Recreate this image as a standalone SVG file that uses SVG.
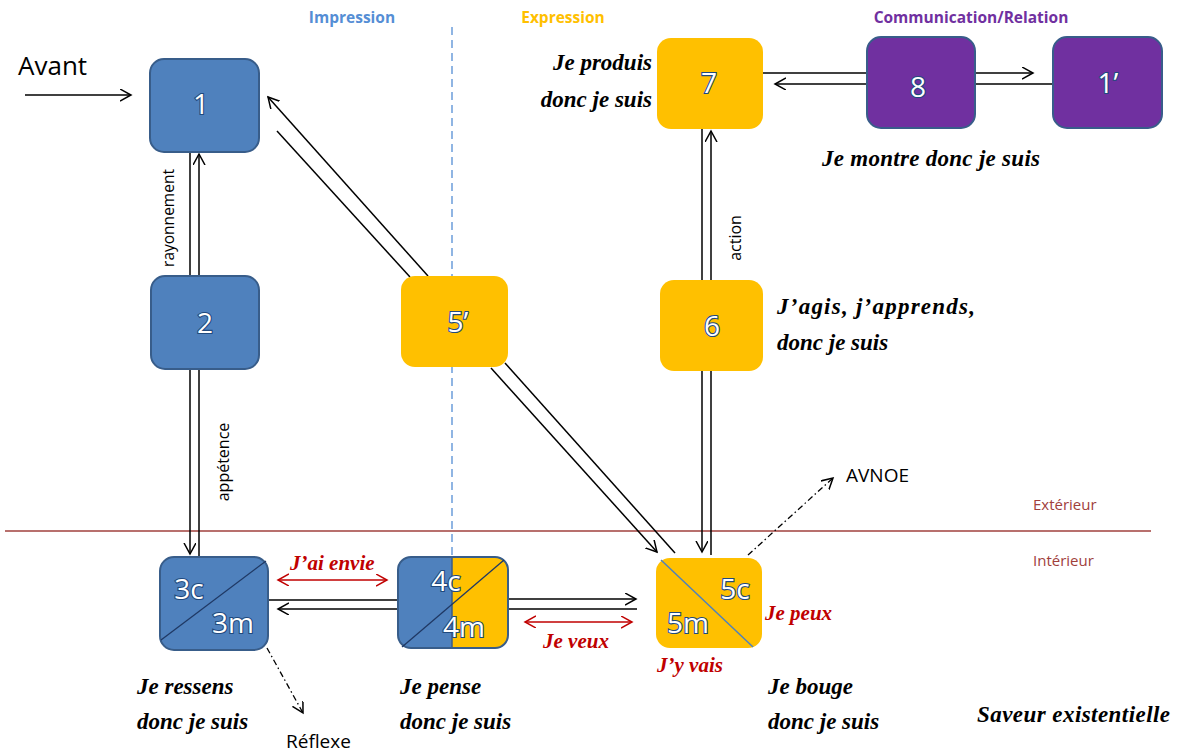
<svg xmlns="http://www.w3.org/2000/svg" width="1181" height="753" viewBox="0 0 1181 753">
<style>
.blue{fill:#4F81BD;stroke:#385D8A;stroke-width:2}
.orange{fill:#FFC000}
.purple{fill:#7030A0;stroke:#385D8A;stroke-width:2}
.num{font-family:"Open Sans","Liberation Sans",sans-serif;font-size:28px;fill:#fff;stroke:#1F497D;stroke-width:2.2;paint-order:stroke;text-anchor:middle}
.lbl{font-family:"Open Sans","Liberation Sans",sans-serif;fill:#000}
.head{font-family:"Open Sans","Liberation Sans",sans-serif;font-weight:bold;font-size:15.5px;text-anchor:middle}
.script{font-family:"Liberation Serif","DejaVu Serif",serif;font-style:italic;font-weight:bold;font-size:23px;fill:#000}
.red{font-family:"Liberation Serif","DejaVu Serif",serif;font-style:italic;font-weight:bold;font-size:21px;fill:#C00000}
.ln{stroke:#000;stroke-width:1.5;fill:none}
.arr{marker-end:url(#ah)}
.dd{stroke:#000;stroke-width:1.3;fill:none;stroke-dasharray:6 3 1.5 3;marker-end:url(#ah)}
.rl{stroke:#C00000;stroke-width:1.5;fill:none;marker-start:url(#rh);marker-end:url(#rh)}
.diag{stroke:#1F3864;stroke-width:1.3}
.ex{font-family:"Open Sans","Liberation Sans",sans-serif;font-size:15px;fill:#A0403C}
</style>
<defs>
<marker id="ah" markerUnits="userSpaceOnUse" markerWidth="14" markerHeight="14" refX="11" refY="6" orient="auto">
<path d="M0,0 L11,6 L0,12" fill="none" stroke="#000" stroke-width="1.5"/>
</marker>
<marker id="rh" markerUnits="userSpaceOnUse" markerWidth="14" markerHeight="14" refX="11" refY="6" orient="auto-start-reverse">
<path d="M0,0 L11,6 L0,12" fill="none" stroke="#C00000" stroke-width="1.5"/>
</marker>
<clipPath id="c4"><rect x="398" y="557" width="110" height="91" rx="13"/></clipPath>
</defs>

<g id="background">
<line x1="452" y1="27" x2="452" y2="557" stroke="#558ED5" stroke-width="1.3" stroke-dasharray="8 5"/>
<line x1="5" y1="531" x2="1151" y2="531" stroke="#A0403C" stroke-width="1.5"/>
<text class="head" x="352" y="23" fill="#558ED5">Impression</text>
<text class="head" x="563" y="23" fill="#FFC000">Expression</text>
<text class="head" x="971" y="23" fill="#7030A0">Communication/Relation</text>
<text class="ex" x="1033" y="510">Extérieur</text>
<text class="ex" x="1033" y="566">Intérieur</text>
<text class="lbl" x="18" y="75" font-size="26">Avant</text>
<text class="lbl" x="286" y="748" font-size="19">Réflexe</text>
<text class="lbl" x="846" y="482" font-size="19">AVNOE</text>
<text class="lbl" font-size="15.5" transform="translate(174,218) rotate(-90)" text-anchor="middle">rayonnement</text>
<text class="lbl" font-size="16" transform="translate(229,462) rotate(-90)" text-anchor="middle">appétence</text>
<text class="lbl" font-size="16" transform="translate(741,238) rotate(-90)" text-anchor="middle">action</text>
</g>

<g id="connectors">
<line class="ln arr" x1="25" y1="95" x2="131" y2="95"/>
<line class="ln arr" x1="199" y1="276" x2="199" y2="154"/>
<line class="ln" x1="190" y1="276" x2="190" y2="152"/>
<line class="ln arr" x1="190" y1="369" x2="190" y2="554"/>
<line class="ln" x1="199" y1="369" x2="199" y2="557"/>
<line class="ln arr" x1="428" y1="276" x2="268" y2="97"/>
<line class="ln" x1="410" y1="277" x2="277" y2="131"/>
<line class="ln arr" x1="491" y1="368" x2="657" y2="552"/>
<line class="ln" x1="505" y1="363" x2="675" y2="553"/>
<line class="ln arr" x1="702" y1="371" x2="702" y2="552"/>
<line class="ln" x1="711" y1="371" x2="711" y2="555"/>
<line class="ln arr" x1="711" y1="280" x2="711" y2="131"/>
<line class="ln" x1="702" y1="280" x2="702" y2="129"/>
<line class="ln" x1="763" y1="73" x2="867" y2="73"/>
<line class="ln arr" x1="867" y1="84" x2="775" y2="84"/>
<line class="ln arr" x1="975" y1="73" x2="1033" y2="73"/>
<line class="ln" x1="975" y1="84" x2="1053" y2="84"/>
<line class="ln" x1="397" y1="600" x2="268" y2="600"/>
<line class="ln arr" x1="397" y1="609" x2="278" y2="609"/>
<line class="ln arr" x1="508" y1="599" x2="636" y2="599"/>
<line class="ln" x1="508" y1="609" x2="637" y2="609"/>
<line class="dd" x1="267" y1="648" x2="303" y2="713"/>
<line class="dd" x1="748" y1="555" x2="833" y2="478"/>
<line class="rl" x1="278" y1="580" x2="387" y2="580"/>
<line class="rl" x1="525" y1="622" x2="632" y2="622"/>
<line class="rl" x1="718" y1="643" x2="751" y2="619"/>
</g>

<g id="node1"><rect class="blue" x="150" y="59" width="109" height="93" rx="14"/><text class="num" x="201" y="114">1</text></g>
<g id="node2"><rect class="blue" x="151" y="276" width="108" height="93" rx="14"/><text class="num" x="205" y="333">2</text></g>
<g id="node5p"><rect class="orange" x="401" y="276" width="107" height="91" rx="14"/><text class="num" x="458" y="332">5’</text></g>
<g id="node6"><rect class="orange" x="660" y="280" width="103" height="91" rx="14"/><text class="num" x="712" y="336">6</text></g>
<g id="node7"><rect class="orange" x="657" y="38" width="106" height="91" rx="14"/><text class="num" x="709" y="93">7</text></g>
<g id="node8"><rect class="purple" x="867" y="37" width="108" height="91" rx="14"/><text class="num" x="918" y="97">8</text></g>
<g id="node1p"><rect class="purple" x="1053" y="37" width="109" height="91" rx="14"/><text class="num" x="1108" y="93">1’</text></g>
<g id="node3">
<rect class="blue" x="160" y="557" width="108" height="93" rx="14"/>
<line class="diag" x1="161" y1="640" x2="266" y2="561"/>
<text class="num" x="189" y="599">3c</text>
<text class="num" x="233" y="633">3m</text>
</g>
<g id="node4">
<rect x="398" y="557" width="110" height="91" rx="13" fill="#4F81BD"/>
<rect x="452" y="557" width="56" height="91" fill="#FFC000" clip-path="url(#c4)"/>
<line x1="452" y1="557" x2="452" y2="648" stroke="#385D8A" stroke-width="1.5"/>
<rect x="398" y="557" width="110" height="91" rx="13" fill="none" stroke="#385D8A" stroke-width="2"/>
<line class="diag" x1="402" y1="647" x2="504" y2="560"/>
<text class="num" x="446" y="591">4c</text>
<text class="num" x="464" y="637">4m</text>
</g>
<g id="node5">
<rect class="orange" x="656" y="558" width="106" height="90" rx="14"/>
<line x1="661" y1="560" x2="753" y2="647" stroke="#4F81BD" stroke-width="1.5"/>
<text class="num" x="735" y="599">5c</text>
<text class="num" x="688" y="633">5m</text>
</g>

<g id="texts">
<text class="script" x="652" y="70" text-anchor="end">Je produis</text>
<text class="script" x="652" y="107" text-anchor="end">donc je suis</text>
<text class="script" x="822" y="166" textLength="218">Je montre donc je suis</text>
<text class="script" x="777" y="314" textLength="198">J’agis, j’apprends,</text>
<text class="script" x="777" y="350">donc je suis</text>
<text class="script" x="137" y="694">Je ressens</text>
<text class="script" x="137" y="729">donc je suis</text>
<text class="script" x="400" y="694">Je pense</text>
<text class="script" x="400" y="729">donc je suis</text>
<text class="script" x="768" y="694">Je bouge</text>
<text class="script" x="768" y="729">donc je suis</text>
<text class="script" x="977" y="722" textLength="193">Saveur existentielle</text>
<text class="red" x="290" y="570">J’ai envie</text>
<text class="red" x="543" y="648">Je veux</text>
<text class="red" x="765" y="620">Je peux</text>
<text class="red" x="657" y="672">J’y vais</text>
</g>
</svg>
